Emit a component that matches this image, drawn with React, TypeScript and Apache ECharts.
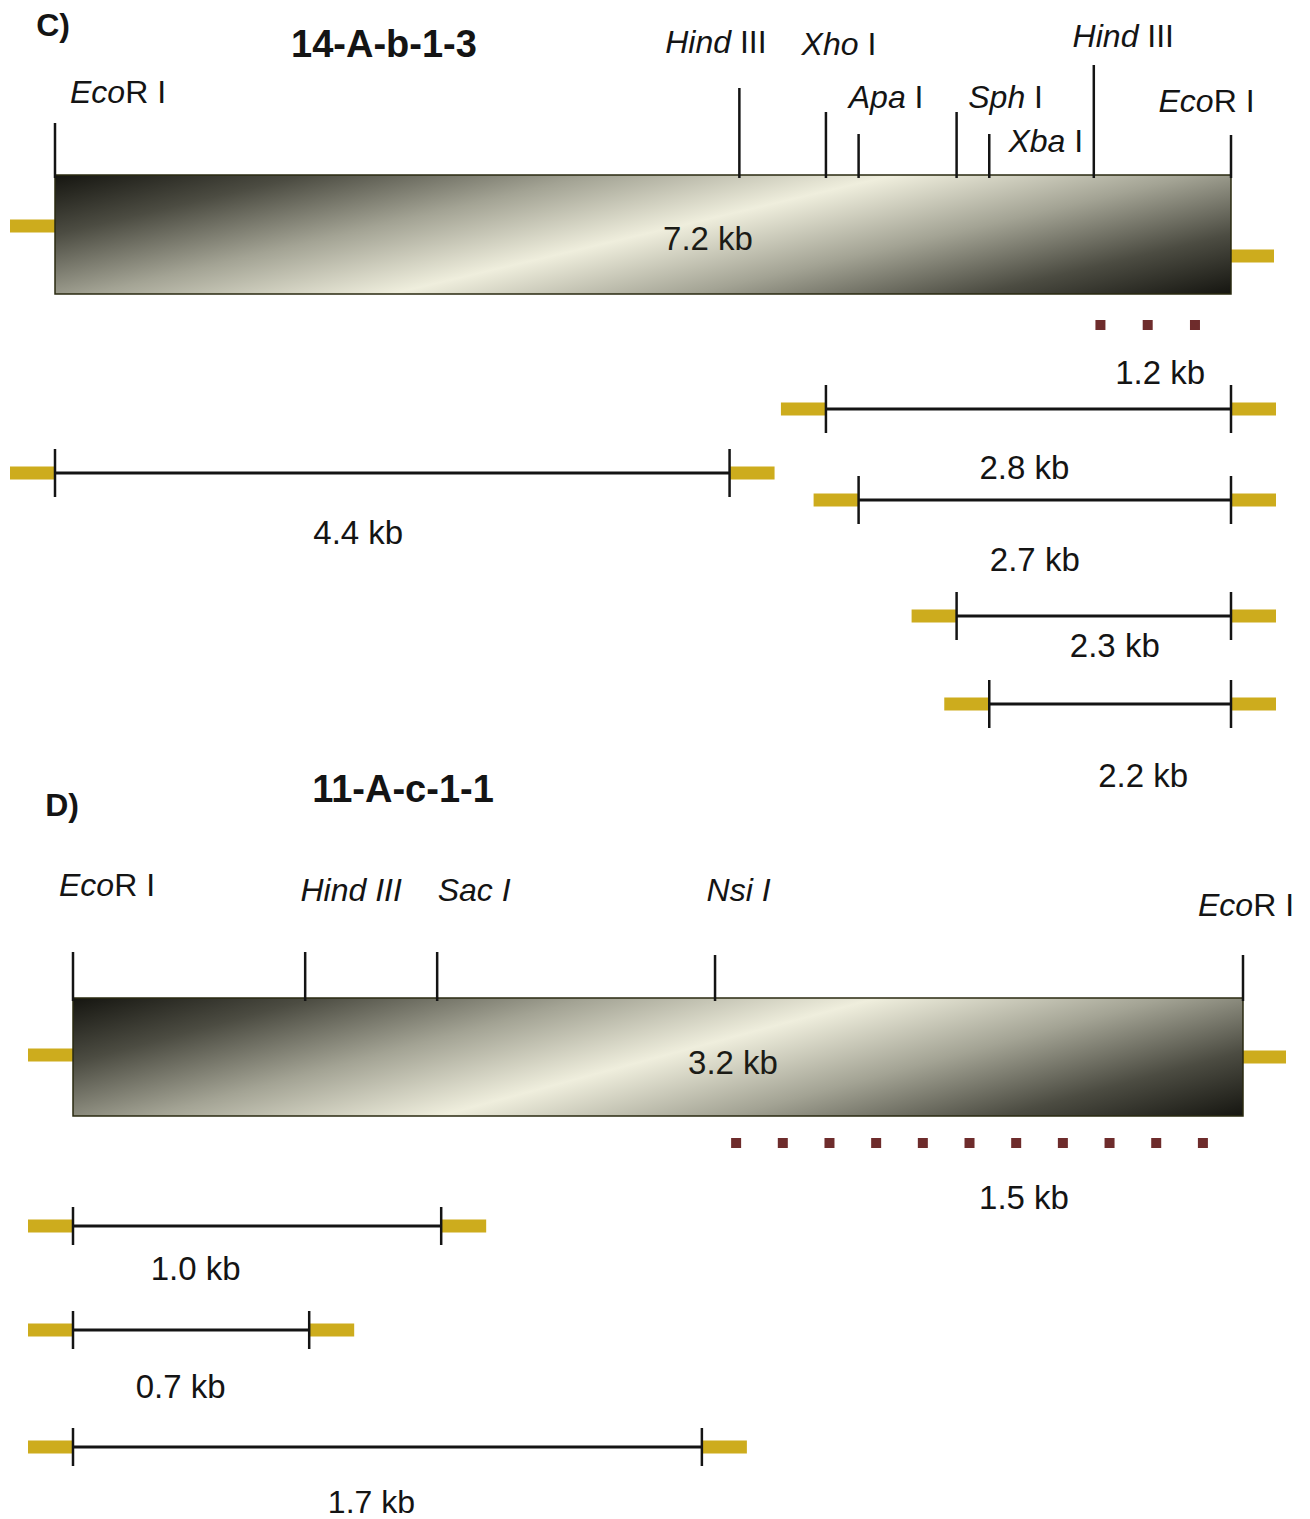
import React, { useEffect, useRef } from "react";
import * as echarts from "echarts";

const FONT = "'Liberation Sans', Arial, Helvetica, sans-serif";

// ---------------- Panel C : clone 14-A-b-1-3 ----------------
const C_PANEL = "C)";
const C_TITLE = "14-A-b-1-3";
const C_TOTAL_KB = 7.2;
const C_TOTAL_LABEL = "7.2 kb";
const C_SITE_ITALIC = ["Eco", "Hind", "Xho", "Apa", "Sph", "Xba", "Hind", "Eco"];
const C_SITE_ROMAN = ["R I", " III", " I", " I", " I", " I", " III", "R I"];
const C_SITE_KB = [0, 4.19, 4.72, 4.92, 5.52, 5.72, 6.36, 7.2];
const C_FRAG_START = [4.72, 0, 4.92, 5.52, 5.72];
const C_FRAG_END = [7.2, 4.13, 7.2, 7.2, 7.2];
const C_FRAG_LABEL = ["2.8 kb", "4.4 kb", "2.7 kb", "2.3 kb", "2.2 kb"];
const C_PROBE = [6.37, 7.01];
const C_PROBE_DOTS = 3;
const C_PROBE_LABEL = "1.2 kb";

// ---------------- Panel D : clone 11-A-c-1-1 ----------------
const D_PANEL = "D)";
const D_TITLE = "11-A-c-1-1";
const D_TOTAL_KB = 3.2;
const D_TOTAL_LABEL = "3.2 kb";
const D_SITE_ITALIC = ["Eco", "Hind III", "Sac I", "Nsi I", "Eco"];
const D_SITE_ROMAN = ["R I", "", "", "", "R I"];
const D_SITE_KB = [0, 0.635, 0.996, 1.756, 3.2];
const D_FRAG_START = [0, 0, 0];
const D_FRAG_END = [1.007, 0.646, 1.72];
const D_FRAG_LABEL = ["1.0 kb", "0.7 kb", "1.7 kb"];
const D_PROBE = [1.8, 3.104];
const D_PROBE_DOTS = 11;
const D_PROBE_LABEL = "1.5 kb";

// ---------------- layout (pixels inside each panel) ----------------
const C_LAYOUT = {
  grid: { left: 55, top: 0, width: 1176, height: 800 },
  siteLineTop: [123, 88, 112, 134, 112, 134, 65, 135],
  siteLabelDx: [63, -23.5, 13, 27.5, 49, 56.5, 29.5, -24.5],
  siteLabelY: [92, 42, 44, 97, 97, 141, 36, 101],
  barTop: 175,
  barBottom: 294,
  barEndY: [226, 256],
  barLabelDx: 65,
  barLabelY: 238,
  fragY: [409, 473, 500, 616, 704],
  fragLabelDx: [-4, -34, -10, 21, 33],
  fragLabelDy: [58, 59, 59, 29, 71],
  fragFont: [33, 33, 33, 33, 33],
  tickHalf: 24,
  probeY: 325,
  probeLabelDx: 12.5,
  probeLabelDy: 47,
  gradDir: [0.23, 0.973],
  panelPos: [53, 25],
  titlePos: [384, 44],
};

const D_LAYOUT = {
  grid: { left: 73, top: 800, width: 1170, height: 719 },
  siteLineTop: [152, 152, 152, 155, 155],
  siteLabelDx: [34, 46, 37, 23.5, 3],
  siteLabelY: [85, 90, 90, 90, 105],
  barTop: 198,
  barBottom: 316,
  barEndY: [255, 257],
  barLabelDx: 75,
  barLabelY: 262,
  fragY: [426, 530, 647],
  fragLabelDx: [-61.5, -10.5, -16],
  fragLabelDy: [42, 56, 55],
  fragFont: [33, 33, 32],
  tickHalf: 19,
  probeY: 343,
  probeLabelDx: 54.5,
  probeLabelDy: 54,
  gradDir: [0.26, 0.966],
  panelPos: [62, 805],
  titlePos: [403, 789],
};

const INK = "#141414";
const YELLOW = "#cdac1d";
const PROBE_COLOR = "#6e2c2c";
const END_W = 45;
const END_H = 13;

const GRAD_STOPS = [
  { offset: 0, color: "#151510" },
  { offset: 0.15, color: "#4c4c42" },
  { offset: 0.32, color: "#a3a394" },
  { offset: 0.5, color: "#efeedd" },
  { offset: 0.68, color: "#a3a394" },
  { offset: 0.85, color: "#4c4c42" },
  { offset: 1, color: "#151510" },
];

type Panel = {
  totalKb: number;
  totalLabel: string;
  siteItalic: string[];
  siteRoman: string[];
  siteKb: number[];
  fragStart: number[];
  fragEnd: number[];
  fragLabel: string[];
  probe: number[];
  probeDots: number;
  probeLabel: string;
  layout: typeof C_LAYOUT;
};

const PANELS: Panel[] = [
  {
    totalKb: C_TOTAL_KB, totalLabel: C_TOTAL_LABEL, siteItalic: C_SITE_ITALIC, siteRoman: C_SITE_ROMAN,
    siteKb: C_SITE_KB, fragStart: C_FRAG_START, fragEnd: C_FRAG_END, fragLabel: C_FRAG_LABEL,
    probe: C_PROBE, probeDots: C_PROBE_DOTS, probeLabel: C_PROBE_LABEL, layout: C_LAYOUT,
  },
  {
    totalKb: D_TOTAL_KB, totalLabel: D_TOTAL_LABEL, siteItalic: D_SITE_ITALIC, siteRoman: D_SITE_ROMAN,
    siteKb: D_SITE_KB, fragStart: D_FRAG_START, fragEnd: D_FRAG_END, fragLabel: D_FRAG_LABEL,
    probe: D_PROBE, probeDots: D_PROBE_DOTS, probeLabel: D_PROBE_LABEL, layout: D_LAYOUT,
  },
];

function textEl(text: string, x: number, y: number, font: string, extra: any = {}) {
  return {
    type: "text",
    style: {
      text, x, y, font, fill: INK,
      align: "center", verticalAlign: "middle",
      textAlign: "center", textVerticalAlign: "middle",
      ...extra,
    },
  };
}

function panelSeries(p: Panel, gi: number) {
  const L = p.layout;
  const base = { type: "custom", xAxisIndex: gi, yAxisIndex: gi, silent: true, clip: false, animation: false };

  const bar = {
    ...base,
    data: [[0, p.totalKb]],
    renderItem: (_params: any, api: any) => {
      const [x0, y0] = api.coord([api.value(0), L.barTop]);
      const [x1, y1] = api.coord([api.value(1), L.barBottom]);
      const [dx, dy] = L.gradDir;
      const span = (x1 - x0) * dx + (y1 - y0) * dy;
      const grad = new echarts.graphic.LinearGradient(x0, y0, x0 + dx * span, y0 + dy * span, GRAD_STOPS, true);
      const yl = api.coord([0, L.barEndY[0]])[1];
      const yr = api.coord([0, L.barEndY[1]])[1];
      const yt = api.coord([0, L.barLabelY])[1];
      return {
        type: "group",
        children: [
          { type: "rect", shape: { x: x0 - END_W, y: yl - END_H / 2, width: END_W, height: END_H }, style: { fill: YELLOW } },
          { type: "rect", shape: { x: x1 - 2, y: yr - END_H / 2, width: END_W, height: END_H }, style: { fill: YELLOW } },
          { type: "rect", shape: { x: x0, y: y0, width: x1 - x0, height: y1 - y0 }, style: { fill: grad, stroke: "#2a2a10", lineWidth: 1.5 } },
          textEl(p.totalLabel, (x0 + x1) / 2 + L.barLabelDx, yt, `33px ${FONT}`, { fill: "#1b1b16" }),
        ],
      };
    },
  };

  const sites = {
    ...base,
    data: p.siteKb.map((k, i) => [k, i]),
    renderItem: (_params: any, api: any) => {
      const i = api.value(1);
      const [x, yTop] = api.coord([api.value(0), L.siteLineTop[i]]);
      const yBot = api.coord([0, L.barTop + 3])[1];
      const yLab = api.coord([0, L.siteLabelY[i]])[1];
      const it = p.siteItalic[i];
      const ro = p.siteRoman[i];
      const txt = ro ? `{i|${it}}{n|${ro}}` : `{i|${it}}`;
      return {
        type: "group",
        children: [
          { type: "line", shape: { x1: x, y1: yTop, x2: x, y2: yBot }, style: { stroke: INK, lineWidth: 2.5 } },
          {
            type: "text",
            style: {
              text: txt, x: x + L.siteLabelDx[i], y: yLab,
              align: "center", verticalAlign: "middle", textAlign: "center", textVerticalAlign: "middle",
              font: `32px ${FONT}`, fill: INK,
              rich: {
                i: { fontStyle: "italic", fontSize: 32, fontFamily: FONT, fill: INK },
                n: { fontStyle: "normal", fontSize: 32, fontFamily: FONT, fill: INK },
              },
            },
          },
        ],
      };
    },
  };

  const frags = {
    ...base,
    data: p.fragStart.map((s, i) => [s, p.fragEnd[i], i]),
    renderItem: (_params: any, api: any) => {
      const i = api.value(2);
      const [x1, y] = api.coord([api.value(0), L.fragY[i]]);
      const [x2] = api.coord([api.value(1), L.fragY[i]]);
      const t = L.tickHalf;
      return {
        type: "group",
        children: [
          { type: "rect", shape: { x: x1 - END_W, y: y - END_H / 2, width: END_W, height: END_H }, style: { fill: YELLOW } },
          { type: "rect", shape: { x: x2, y: y - END_H / 2, width: END_W, height: END_H }, style: { fill: YELLOW } },
          { type: "line", shape: { x1, y1: y, x2, y2: y }, style: { stroke: INK, lineWidth: 3 } },
          { type: "line", shape: { x1, y1: y - t, x2: x1, y2: y + t }, style: { stroke: INK, lineWidth: 2.5 } },
          { type: "line", shape: { x1: x2, y1: y - t, x2, y2: y + t }, style: { stroke: INK, lineWidth: 2.5 } },
          textEl(p.fragLabel[i], (x1 + x2) / 2 + L.fragLabelDx[i], y + L.fragLabelDy[i], `${L.fragFont[i]}px ${FONT}`),
        ],
      };
    },
  };

  const probe = {
    ...base,
    data: [[p.probe[0], p.probe[1], p.probeDots]],
    renderItem: (_params: any, api: any) => {
      const [x1, y] = api.coord([api.value(0), L.probeY]);
      const [x2] = api.coord([api.value(1), L.probeY]);
      const n = api.value(2);
      const dot = 10;
      const gap = (x2 - x1 - n * dot) / (n - 1);
      return {
        type: "group",
        children: [
          { type: "line", shape: { x1, y1: y, x2, y2: y }, style: { stroke: PROBE_COLOR, lineWidth: 10, lineDash: [dot, gap], lineCap: "butt" } },
          textEl(p.probeLabel, (x1 + x2) / 2 + L.probeLabelDx, y + L.probeLabelDy, `33px ${FONT}`),
        ],
      };
    },
  };

  return [bar, sites, frags, probe];
}

function buildOption() {
  const grids = PANELS.map((p) => ({ ...p.layout.grid, containLabel: false }));
  const xAxes = PANELS.map((p, gi) => ({
    type: "value", gridIndex: gi, min: 0, max: p.totalKb, show: false, splitLine: { show: false },
  }));
  const yAxes = PANELS.map((p, gi) => ({
    type: "value", gridIndex: gi, min: 0, max: p.layout.grid.height, inverse: true, show: false, splitLine: { show: false },
  }));
  const series = PANELS.flatMap((p, gi) => panelSeries(p, gi));
  const headings = [
    [C_PANEL, C_LAYOUT.panelPos, 32],
    [C_TITLE, C_LAYOUT.titlePos, 38],
    [D_PANEL, D_LAYOUT.panelPos, 32],
    [D_TITLE, D_LAYOUT.titlePos, 38],
  ] as [string, number[], number][];
  return {
    animation: false,
    backgroundColor: "#ffffff",
    grid: grids,
    xAxis: xAxes,
    yAxis: yAxes,
    series,
    graphic: headings.map(([t, pos, size]) => ({
      type: "text",
      x: pos[0],
      y: pos[1],
      style: {
        text: t,
        font: `bold ${size}px ${FONT}`,
        fill: INK,
        align: "center", verticalAlign: "middle",
        textAlign: "center", textVerticalAlign: "middle",
      },
    })),
  };
}

export default function App() {
  const ref = useRef<HTMLDivElement>(null);
  useEffect(() => {
    if (!ref.current) return;
    const chart = echarts.init(ref.current, null, { renderer: "svg" });
    chart.setOption(buildOption() as any);
    return () => chart.dispose();
  }, []);
  return (
    <div
      ref={ref}
      style={{ position: "absolute", left: 0, top: 0, width: 1310, height: 1519, background: "#fff" }}
    />
  );
}
